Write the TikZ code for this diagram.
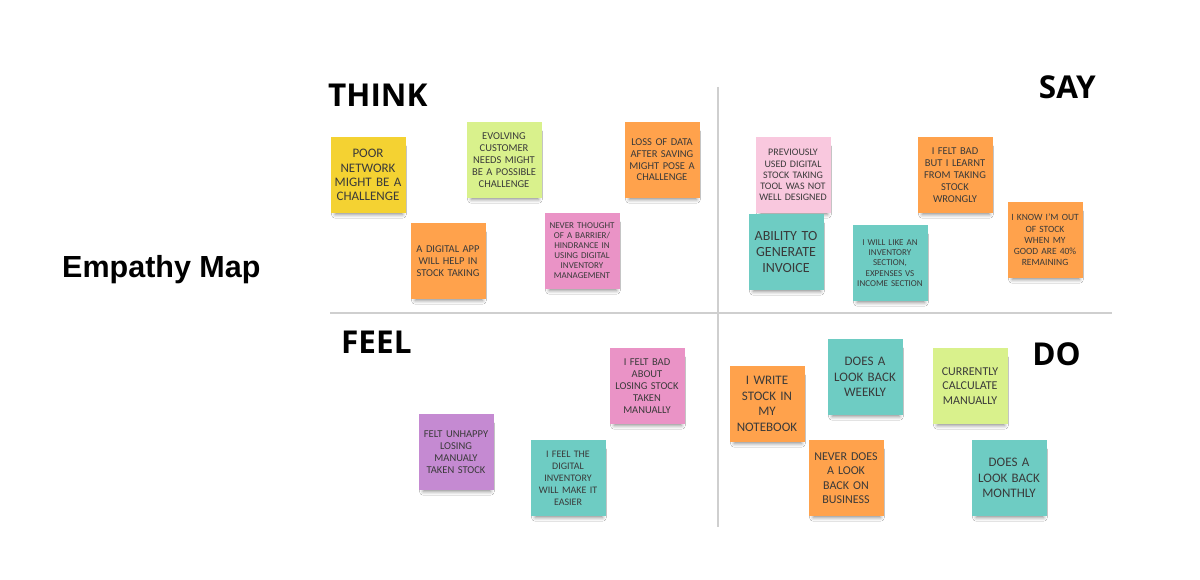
\documentclass[tikz,border=0pt]{standalone}
\usepackage{fontspec}
\setmainfont{Carlito}
\newfontfamily\headfont{Open Sans}
\newfontfamily\titlefont{Liberation Sans}
\usetikzlibrary{shadows.blur}
\definecolor{stYellow}{HTML}{F4D232}
\definecolor{stGreen}{HTML}{D9F18C}
\definecolor{stOrange}{HTML}{FFA24C}
\definecolor{stPink}{HTML}{EA93C6}
\definecolor{stLightPink}{HTML}{F9C8DE}
\definecolor{stTeal}{HTML}{6ECCC3}
\definecolor{stPurple}{HTML}{C58AD2}
\definecolor{txt}{HTML}{3A3A3A}
\definecolor{divider}{HTML}{CFCFCF}
\tikzset{
  sticky/.style={minimum width=75pt, minimum height=76pt, text width=73pt,
    inner sep=0pt, align=center, text=txt,
    blur shadow={shadow xshift=1pt, shadow yshift=-6pt, shadow blur radius=4pt,
      shadow opacity=45, shadow scale=0.9}},
  stfont/.style 2 args={font=\fontsize{#1}{#2}\selectfont},
  quadlabel/.style={font=\headfont\bfseries\fontsize{31.5}{36}\selectfont, text=black, inner sep=0pt},
}
\begin{document}
\begin{tikzpicture}[x=1pt,y=-1pt]
\useasboundingbox[fill=white] (0,0) rectangle (1200,580);

% dividers
\coordinate (vtop) at (718,87);
\coordinate (vbot) at (718,527);
\coordinate (hleft) at (330,313);
\coordinate (hright) at (1112,313);
\draw[divider, line width=1.1pt] (vtop) -- (vbot);
\draw[divider, line width=1.1pt] (hleft) -- (hright);

% titles
\node[font=\titlefont\bfseries\fontsize{30.5}{35}\selectfont, anchor=base west, inner sep=0pt] (title) at (62,278) {Empathy Map};
\node[quadlabel, anchor=base west] (think) at (328,107) {THINK};
\node[quadlabel, anchor=base east] (say) at (1096,99) {SAY};
\node[quadlabel, anchor=base west] (feel) at (341,353) {FEEL};
\node[quadlabel, anchor=base east] (do) at (1081,365) {DO};

% THINK
\node[sticky, fill=stYellow, stfont={13}{14.3}] (n1) at (368,175) {POOR\\NETWORK\\MIGHT BE A\\CHALLENGE};
\node[sticky, fill=stGreen, stfont={10.5}{12}] (n2) at (504,160) {EVOLVING\\CUSTOMER\\NEEDS MIGHT\\BE A POSSIBLE\\CHALLENGE};
\node[sticky, fill=stOrange, stfont={10.5}{11.7}] (n3) at (662,160) {LOSS OF DATA\\AFTER SAVING\\MIGHT POSE A\\CHALLENGE};
\node[sticky, fill=stOrange, stfont={10.5}{11.7}] (n4) at (448,261) {A DIGITAL APP\\WILL HELP IN\\STOCK TAKING};
\node[sticky, fill=stPink, stfont={9}{10}] (n5) at (582,251) {NEVER THOUGHT\\OF A BARRIER/\\HINDRANCE IN\\USING DIGITAL\\INVENTORY\\MANAGEMENT};

% SAY
\node[sticky, fill=stLightPink, stfont={10}{11.2}] (n6) at (793,175) {PREVIOUSLY\\USED DIGITAL\\STOCK TAKING\\TOOL WAS NOT\\WELL DESIGNED};
\node[sticky, fill=stTeal, stfont={14}{16}] (n7) at (786,252) {ABILITY TO\\GENERATE\\INVOICE};
\node[sticky, fill=stTeal, stfont={9}{10.3}] (n8) at (890,263) {I WILL LIKE AN\\INVENTORY\\SECTION,\\EXPENSES VS\\INCOME SECTION};
\node[sticky, fill=stOrange, stfont={10.5}{12}] (n9) at (955,175) {I FELT BAD\\BUT I LEARNT\\FROM TAKING\\STOCK\\WRONGLY};
\node[sticky, fill=stOrange, stfont={9.5}{11.3}] (n10) at (1045,240) {I KNOW I'M OUT\\OF STOCK\\WHEN MY\\GOOD ARE 40\%\\REMAINING};

% FEEL
\node[sticky, fill=stPink, stfont={10.5}{12}] (n11) at (647,386) {I FELT BAD\\ABOUT\\LOSING STOCK\\TAKEN\\MANUALLY};
\node[sticky, fill=stPurple, stfont={10.5}{12}] (n12) at (456,452) {FELT UNHAPPY\\LOSING\\MANUALY\\TAKEN STOCK};
\node[sticky, fill=stTeal, stfont={10}{12}] (n13) at (568,478) {I FEEL THE\\DIGITAL\\INVENTORY\\WILL MAKE IT\\EASIER};

% DO
\node[sticky, fill=stOrange, stfont={13}{15.5}] (n14) at (767,404) {I WRITE\\STOCK IN\\MY\\NOTEBOOK};
\node[sticky, fill=stTeal, stfont={13}{15.5}] (n15) at (865,377) {DOES A\\LOOK BACK\\WEEKLY};
\node[sticky, fill=stGreen, stfont={12}{14.5}] (n16) at (970,386) {CURRENTLY\\CALCULATE\\MANUALLY};
\node[sticky, fill=stOrange, stfont={12}{14.4}] (n17) at (846,478) {NEVER DOES\\A LOOK\\BACK ON\\BUSINESS};
\node[sticky, fill=stTeal, stfont={13}{15.8}] (n18) at (1009,478) {DOES A\\LOOK BACK\\MONTHLY};
\end{tikzpicture}
\end{document}
